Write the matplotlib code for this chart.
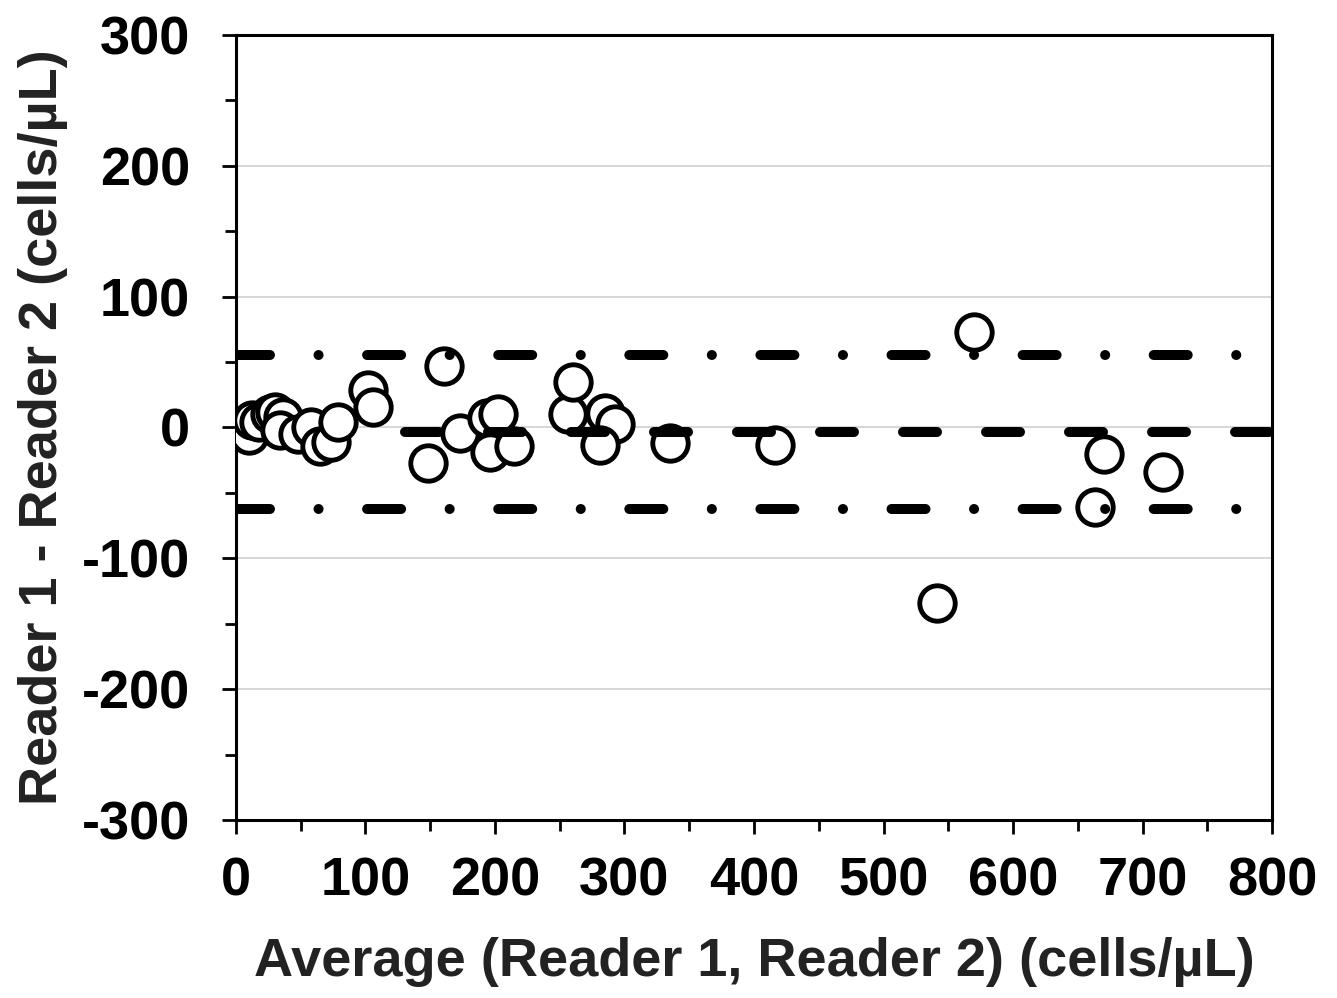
import matplotlib
matplotlib.use("Agg")
import matplotlib.pyplot as plt
import numpy as np

# Bland-Altman: average of readers vs. difference
avg = [5, 10, 12, 18, 26, 30, 36, 34, 48, 58, 65, 73, 79, 102, 106,
       148, 161, 173, 194, 202, 196, 215,
       256, 260, 285, 293, 281, 335, 416,
       541, 570, 663, 670, 716]
diff = [-3, -6, 6, 4, 10, 12, 8, -2, -5, 0, -14, -11, 4, 29, 16,
        -27, 47, -4, 7, 10, -19, -14,
        10, 35, 11, 3, -13, -12, -13,
        -134, 73, -61, -20, -34]

mean_diff = -3.5
upper_loa = 55.5
lower_loa = -62.0

xticks = [0, 100, 200, 300, 400, 500, 600, 700, 800]
yticks = [-300, -200, -100, 0, 100, 200, 300]

plt.rcParams['font.family'] = ['Liberation Sans', 'DejaVu Sans']
plt.rcParams['font.weight'] = 'bold'
plt.rcParams['axes.unicode_minus'] = False

fig = plt.figure(figsize=(13.37, 9.98), dpi=100)
ax = fig.add_axes([0.1765, 0.1784, 0.9514 - 0.1765, 0.9649 - 0.1784])

ax.set_xlim(0, 800)
ax.set_ylim(-300, 300)

for y in [-200, -100, 0, 100, 200]:
    ax.axhline(y, color='#cfcfcf', lw=1.2, zorder=0)

ax.plot(avg, diff, 'o', ms=25.5, mfc='white', mec='black', mew=3.5, zorder=3)

lw = 7.2
ax.plot([0, 776], [upper_loa, upper_loa], color='black', lw=lw,
        linestyle=(0, (3.4, 4.85, 0.01, 4.85)), dash_capstyle='round', zorder=4)
ax.plot([0, 776], [lower_loa, lower_loa], color='black', lw=lw,
        linestyle=(0, (3.4, 4.85, 0.01, 4.85)), dash_capstyle='round', zorder=4)
ax.plot([130.5, 820], [mean_diff, mean_diff], color='black', lw=lw,
        linestyle=(0, (3.4, 4.9)), dash_capstyle='round', zorder=4)

ax.set_xticks(xticks)
ax.set_yticks(yticks)
ax.set_xticks(np.arange(50, 800, 100), minor=True)
ax.set_yticks(np.arange(-250, 300, 100), minor=True)
ax.tick_params(axis='both', which='major', direction='out', length=10, width=2,
               labelsize=39)
ax.tick_params(axis='both', which='minor', direction='out', length=8, width=2)
ax.tick_params(axis='y', which='major', pad=23)
ax.tick_params(axis='x', which='major', pad=16)

for s in ax.spines.values():
    s.set_linewidth(2.2)

ax.set_xlabel('Average (Reader 1, Reader 2) (cells/µL)', fontsize=39,
              fontweight='bold', color='#222222', labelpad=22)
ax.set_ylabel('Reader 1 - Reader 2 (cells/µL)', fontsize=39,
              fontweight='bold', color='#222222', labelpad=10)

fig.savefig('out.png', dpi=100)
